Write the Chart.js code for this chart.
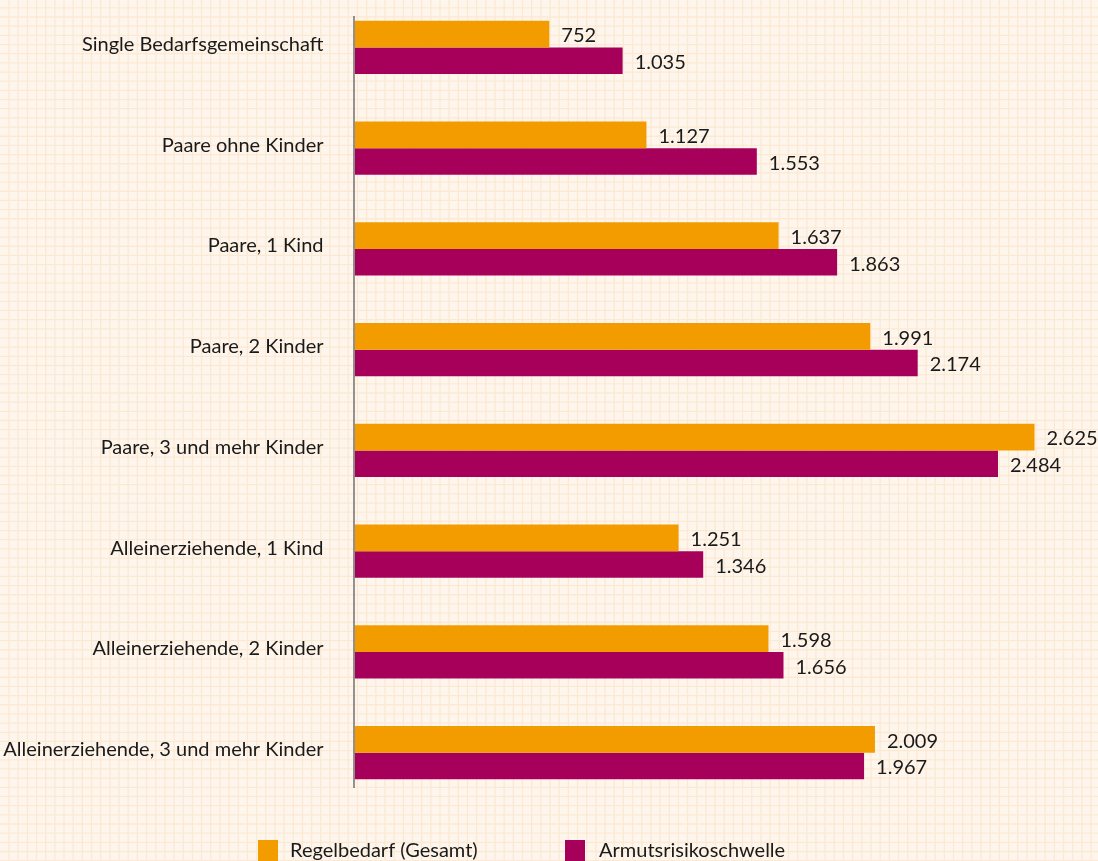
<!DOCTYPE html>
<html>
<head>
<meta charset="utf-8">
<script src="https://cdn.jsdelivr.net/npm/chart.js@4.4.1/dist/chart.umd.min.js"></script>
<style>
  html, body { margin: 0; padding: 0; overflow: hidden; background: #fef6ec; }
  #wrap { position: absolute; left: 0; top: -3px; width: 1098px; height: 864px; }
</style>
</head>
<body>
<div id="wrap"><canvas id="chart" width="1098" height="864"></canvas></div>
<script>
// categories and values (EUR per month)
var categories = [
    "Single Bedarfsgemeinschaft",
    "Paare ohne Kinder",
    "Paare, 1 Kind",
    "Paare, 2 Kinder",
    "Paare, 3 und mehr Kinder",
    "Alleinerziehende, 1 Kind",
    "Alleinerziehende, 2 Kinder",
    "Alleinerziehende, 3 und mehr Kinder"
];
var regelbedarf = [752, 1127, 1637, 1991, 2625, 1251, 1598, 2009];
var armutsschwelle = [1035, 1553, 1863, 2174, 2484, 1346, 1656, 1967];
var seriesNames = ["Regelbedarf (Gesamt)", "Armutsrisikoschwelle"];

var ORANGE = "#f39c00";
var PURPLE = "#a6005a";
var FONT = "Lato, 'Open Sans', sans-serif";
var SHIFT = 3; // canvas sits 3px above the page

function fmt(v) {
    // german thousands separator
    return String(v).replace(/\B(?=(\d{3})+(?!\d))/g, ".");
}

// cream paper with a fine grid
var paperPlugin = {
    id: "paper",
    beforeDraw: function(chart) {
        var ctx = chart.ctx, w = chart.width, h = chart.height;
        ctx.save();
        ctx.fillStyle = "#fef6ec";
        ctx.fillRect(0, 0, w, h);
        ctx.strokeStyle = "#fbe9d4";
        ctx.lineWidth = 1.3;
        var step = 9.17;
        ctx.beginPath();
        for (var x = 9; x < w; x += step) {
            ctx.moveTo(x, 0); ctx.lineTo(x, h);
        }
        for (var y = 7.85 + SHIFT - step; y < h; y += step) {
            ctx.moveTo(0, y); ctx.lineTo(w, y);
        }
        ctx.stroke();
        ctx.restore();
    }
};

// value axis line, value labels and legend
var extrasPlugin = {
    id: "extras",
    afterDatasetsDraw: function(chart) {
        var ctx = chart.ctx;
        var area = chart.chartArea;
        ctx.save();
        // vertical axis line
        ctx.strokeStyle = "#7a7a7a";
        ctx.lineWidth = 1.6;
        ctx.beginPath();
        ctx.moveTo(area.left - 0.5, 16 + SHIFT);
        ctx.lineTo(area.left - 0.5, 788 + SHIFT);
        ctx.stroke();

        // value labels
        ctx.fillStyle = "#1a1a1a";
        ctx.font = "20px " + FONT;
        ctx.textAlign = "left";
        ctx.textBaseline = "middle";
        chart.data.datasets.forEach(function(ds, i) {
            var meta = chart.getDatasetMeta(i);
            meta.data.forEach(function(bar, j) {
                ctx.fillText(fmt(ds.data[j]), bar.x + 12, bar.y + 2);
            });
        });

        // legend
        var items = [
            { x: 258, tx: 290, color: ORANGE, label: seriesNames[0] },
            { x: 565, tx: 599, color: PURPLE, label: seriesNames[1] }
        ];
        ctx.textBaseline = "alphabetic";
        items.forEach(function(it) {
            ctx.fillStyle = it.color;
            ctx.fillRect(it.x, 840 + SHIFT, 20, 22);
            ctx.fillStyle = "#1a1a1a";
            ctx.fillText(it.label, it.tx, 857 + SHIFT);
        });
        ctx.restore();
    }
};

new Chart(document.getElementById("chart").getContext("2d"), {
    type: "bar",
    data: {
        labels: categories,
        datasets: [
            { label: seriesNames[0], data: regelbedarf, backgroundColor: ORANGE,
              categoryPercentage: 0.53, barPercentage: 1.0 },
            { label: seriesNames[1], data: armutsschwelle, backgroundColor: PURPLE,
              categoryPercentage: 0.53, barPercentage: 1.0 }
        ]
    },
    options: {
        indexAxis: "y",
        responsive: false,
        animation: false,
        layout: { padding: { top: 0, right: 0, left: 0, bottom: 58 } },
        plugins: {
            legend: { display: false },
            tooltip: { enabled: false }
        },
        scales: {
            x: {
                display: false,
                min: 0,
                max: 2870
            },
            y: {
                grid: { display: false, drawTicks: false },
                border: { display: false },
                ticks: {
                    color: "#1a1a1a",
                    font: { family: FONT, size: 20 },
                    padding: 31,
                    labelOffset: -3
                },
                afterFit: function(scale) {
                    scale.width = 354.5;
                    scale.paddingTop = 0;
                    scale.paddingBottom = 0;
                }
            }
        }
    },
    plugins: [paperPlugin, extrasPlugin]
});
</script>
</body>
</html>
